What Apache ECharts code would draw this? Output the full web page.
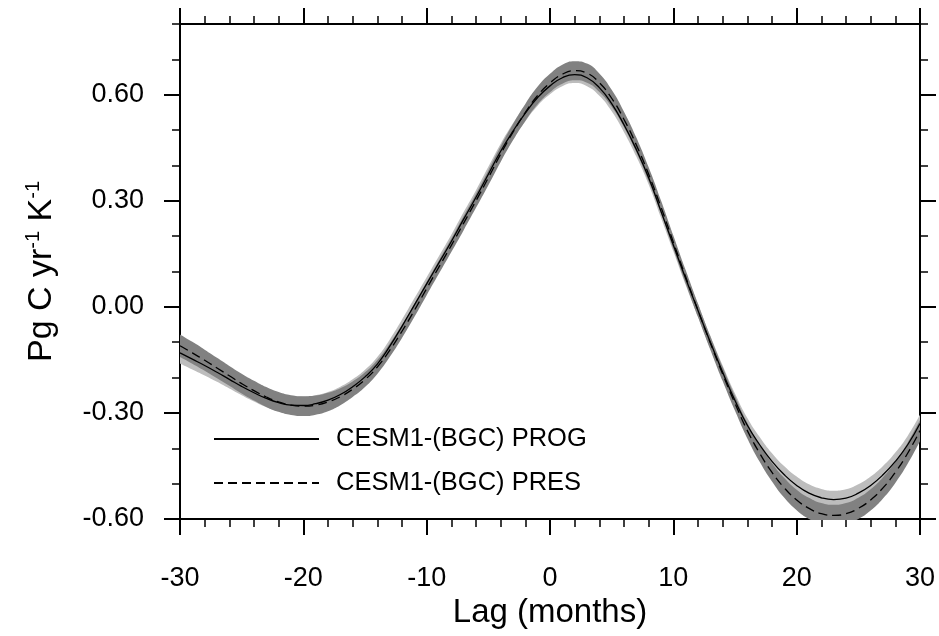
<!DOCTYPE html>
<html>
<head>
<meta charset="utf-8">
<script src="https://cdn.jsdelivr.net/npm/echarts@6/dist/echarts.min.js"></script>
<style>
  html, body { margin: 0; padding: 0; background: #fff; }
  #chart { width: 939px; height: 636px; }
</style>
</head>
<body>
<div id="chart"></div>
<script>
// lag in months
const lags = [
  -30, -29, -28, -27, -26, -25, -24, -23, -22, -21,
  -20, -19, -18, -17, -16, -15, -14, -13, -12, -11,
  -10, -9, -8, -7, -6, -5, -4, -3, -2, -1,
  0, 1, 2, 3, 4, 5, 6, 7, 8, 9,
  10, 11, 12, 13, 14, 15, 16, 17, 18, 19,
  20, 21, 22, 23, 24, 25, 26, 27, 28, 29,
  30
];
// CESM1-(BGC) PROG (solid)
const prog = [
  -0.130, -0.148, -0.166, -0.185, -0.205, -0.225, -0.243, -0.259, -0.271, -0.278,
  -0.279, -0.274, -0.264, -0.248, -0.226, -0.198, -0.162, -0.112, -0.055, 0.005,
  0.065, 0.125, 0.185, 0.248, 0.310, 0.375, 0.440, 0.497, 0.548, 0.592,
  0.625, 0.648, 0.657, 0.648, 0.620, 0.575, 0.515, 0.445, 0.365, 0.270,
  0.175, 0.080, -0.010, -0.100, -0.185, -0.265, -0.335, -0.390, -0.437, -0.475,
  -0.505, -0.527, -0.540, -0.545, -0.541, -0.527, -0.505, -0.475, -0.437, -0.390,
  -0.330
];
// CESM1-(BGC) PRES (dashed)
const pres = [
  -0.110, -0.130, -0.151, -0.173, -0.195, -0.217, -0.237, -0.255, -0.269, -0.278,
  -0.281, -0.278, -0.269, -0.254, -0.233, -0.206, -0.170, -0.123, -0.069, -0.010,
  0.052, 0.113, 0.174, 0.237, 0.300, 0.365, 0.432, 0.494, 0.550, 0.598,
  0.633, 0.658, 0.668, 0.661, 0.634, 0.590, 0.530, 0.458, 0.375, 0.282,
  0.183, 0.085, -0.010, -0.102, -0.190, -0.273, -0.350, -0.414, -0.468, -0.512,
  -0.546, -0.570, -0.585, -0.590, -0.585, -0.570, -0.546, -0.512, -0.468, -0.414,
  -0.350
];
// half width of the shaded ranges
const progSpread = [
  0.030, 0.029, 0.028, 0.027, 0.026, 0.025, 0.025, 0.025, 0.025, 0.025,
  0.025, 0.024, 0.023, 0.022, 0.021, 0.020, 0.020, 0.019, 0.019, 0.019,
  0.019, 0.019, 0.019, 0.020, 0.020, 0.021, 0.021, 0.022, 0.023, 0.023,
  0.024, 0.024, 0.024, 0.024, 0.023, 0.022, 0.021, 0.020, 0.019, 0.018,
  0.018, 0.018, 0.018, 0.018, 0.019, 0.020, 0.021, 0.022, 0.023, 0.024,
  0.025, 0.025, 0.025, 0.025, 0.025, 0.025, 0.025, 0.025, 0.025, 0.025,
  0.025
];
const presSpread = [
  0.032, 0.031, 0.030, 0.029, 0.028, 0.028, 0.028, 0.028, 0.028, 0.028,
  0.028, 0.027, 0.026, 0.024, 0.022, 0.021, 0.020, 0.019, 0.019, 0.019,
  0.019, 0.019, 0.019, 0.020, 0.020, 0.021, 0.022, 0.023, 0.024, 0.025,
  0.026, 0.027, 0.027, 0.027, 0.026, 0.024, 0.022, 0.021, 0.020, 0.019,
  0.019, 0.019, 0.019, 0.019, 0.020, 0.021, 0.022, 0.024, 0.026, 0.028,
  0.029, 0.030, 0.030, 0.030, 0.030, 0.030, 0.030, 0.030, 0.030, 0.030,
  0.030
];
const yMajor = [-0.6, -0.3, 0, 0.3, 0.6];

const font = "'Liberation Sans', Arial, Helvetica, sans-serif";

function pairs(vals) { return lags.map((x, i) => [x, vals[i]]); }

// bands are stacked on a hidden category axis (one category per lag)
function bandSeries(key, vals, sp, color) {
  return [
    {
      name: key + 'Low', type: 'line', xAxisIndex: 2, stack: key, stackStrategy: 'all',
      data: vals.map((v, i) => v - sp[i]), smooth: true, symbol: 'none', silent: true,
      lineStyle: { opacity: 0 }
    },
    {
      name: key + 'Band', type: 'line', xAxisIndex: 2, stack: key, stackStrategy: 'all',
      data: sp.map(s => 2 * s), smooth: true, symbol: 'none', silent: true,
      lineStyle: { opacity: 0 },
      areaStyle: { color: color, opacity: 1 }
    }
  ];
}

function xAxisDef(pos, labels) {
  return {
    type: 'value', position: pos, min: -30, max: 30, interval: 10,
    axisLine: { show: true, onZero: false, lineStyle: { color: '#000', width: 2 } },
    axisTick: { show: true, inside: false, length: 16, lineStyle: { color: '#000', width: 2 } },
    minorTick: { show: true, splitNumber: 5, length: 8, lineStyle: { color: '#000', width: 1.5 } },
    splitLine: { show: false },
    minorSplitLine: { show: false },
    axisLabel: { show: labels, margin: 46, fontSize: 27, color: '#000', fontFamily: font },
    name: labels ? 'Lag (months)' : '',
    nameLocation: 'middle', nameGap: 75,
    nameTextStyle: { fontSize: 33, color: '#000', fontFamily: font }
  };
}

function yAxisDef(pos, major, labels) {
  const ax = {
    type: 'value', position: pos, min: -0.6, max: 0.8,
    interval: major ? 0.3 : 0.1,
    axisLine: { show: major, onZero: false, lineStyle: { color: '#000', width: 2 } },
    axisTick: {
      show: true, inside: false, length: major ? 16 : 8,
      lineStyle: { color: '#000', width: major ? 2 : 1.5 }
    },
    splitLine: { show: false },
    axisLabel: { show: false }
  };
  if (major) {
    ax.axisTick.customValues = yMajor;
  }
  if (labels) {
    ax.axisLabel = {
      show: true, customValues: yMajor, margin: 36,
      fontSize: 27, color: '#000', fontFamily: font,
      formatter: v => v.toFixed(2)
    };
    ax.name = '{m|Pg C yr}{s|-1}{m| K}{s|-1}';
    ax.nameLocation = 'middle';
    ax.nameGap = 121;
    ax.nameRotate = 90;
    ax.nameTextStyle = {
      fontFamily: font, color: '#000',
      rich: {
        m: { fontSize: 34, lineHeight: 36, fontFamily: font, color: '#000', verticalAlign: 'bottom' },
        s: { fontSize: 20, lineHeight: 36, fontFamily: font, color: '#000', verticalAlign: 'top' }
      }
    };
  }
  return ax;
}

const chart = echarts.init(document.getElementById('chart'));
chart.setOption({
  animation: false,
  backgroundColor: '#fff',
  grid: { left: 180, right: 19, top: 24, bottom: 117 },
  xAxis: [
    xAxisDef('bottom', true),
    xAxisDef('top', false),
    { type: 'category', data: lags, boundaryGap: false, show: false }
  ],
  yAxis: [
    yAxisDef('left', true, true),
    yAxisDef('left', false, false),
    yAxisDef('right', true, false),
    yAxisDef('right', false, false)
  ],
  legend: {
    orient: 'vertical', left: 213, top: 426, itemGap: 18, padding: 0,
    itemWidth: 105, itemHeight: 14,
    itemStyle: { opacity: 0 },
    data: ['CESM1-(BGC) PROG', 'CESM1-(BGC) PRES'],
    textStyle: { fontSize: 25.5, lineHeight: 26, color: '#000', fontFamily: font, padding: [0, 0, 0, 12] }
  },
  series: [
    ...bandSeries('prog', prog, progSpread, '#bdbdbd'),
    ...bandSeries('pres', pres, presSpread, '#818181'),
    {
      name: 'CESM1-(BGC) PROG', type: 'line', data: pairs(prog), smooth: true,
      symbol: 'none', lineStyle: { color: '#000', width: 1.3 }, itemStyle: { color: '#000' }
    },
    {
      name: 'CESM1-(BGC) PRES', type: 'line', data: pairs(pres), smooth: true,
      symbol: 'none', lineStyle: { color: '#000', width: 1.3, type: [9, 5] }, itemStyle: { color: '#000' }
    }
  ]
});
</script>
</body>
</html>
